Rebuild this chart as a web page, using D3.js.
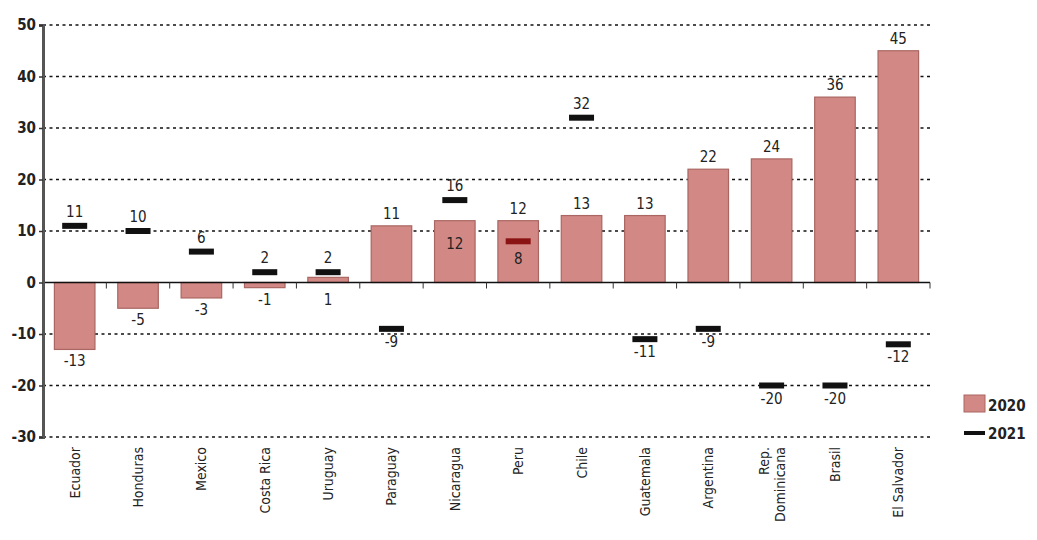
<!DOCTYPE html>
<html><head><meta charset="utf-8">
<script src="https://cdn.jsdelivr.net/npm/d3@7"></script>
<style>
body{margin:0;background:#fff;}
text{font-family:"DejaVu Sans Condensed","DejaVu Sans",sans-serif;font-stretch:condensed;fill:#222;}
</style></head>
<body><svg id="c" width="1037" height="540"></svg>
<script>
const countries = ["Ecuador","Honduras","Mexico","Costa Rica","Uruguay","Paraguay","Nicaragua","Peru","Chile","Guatemala","Argentina","Rep.\nDominicana","Brasil","El Salvador"];
const values2020 = [-13,-5,-3,-1,1,11,12,12,13,13,22,24,36,45];
const values2021 = [11,10,6,2,2,-9,16,8,32,-11,-9,-20,-20,-12];
const yTicks = [50,40,30,20,10,0,-10,-20,-30];
const seriesNames = ["2020","2021"];

const svg = d3.select("#c");
const L=43, R=930, T=25, B=437;
const y = d3.scaleLinear().domain([-30,50]).range([B,T]);
const x = d3.scaleBand().domain(countries).range([L,R]).paddingInner(0.36).paddingOuter(0.18);
const step = x.step();
const FF = '"DejaVu Sans Condensed","DejaVu Sans",sans-serif';

// grid
svg.append("g").selectAll("line").data(yTicks.filter(d=>d!==0)).join("line")
  .attr("x1",L).attr("x2",R).attr("y1",d=>y(d)).attr("y2",d=>y(d))
  .attr("stroke","#111").attr("stroke-width",1.6).attr("stroke-dasharray","3,3.5");

// bars
const data = countries.map((c,i)=>({c, a:values2020[i], b:values2021[i]}));
svg.append("g").selectAll("rect").data(data).join("rect")
  .attr("x",d=>x(d.c)).attr("width",x.bandwidth())
  .attr("y",d=>Math.min(y(d.a),y(0))).attr("height",d=>Math.abs(y(d.a)-y(0)))
  .attr("fill","#d2898586").attr("fill","#d28985").attr("stroke","#a96662").attr("stroke-width",1.2);

// zero axis
svg.append("line").attr("x1",L).attr("x2",R).attr("y1",y(0)).attr("y2",y(0))
  .attr("stroke","#111").attr("stroke-width",1.6);
svg.append("g").selectAll("line").data(d3.range(1,countries.length+1)).join("line")
  .attr("x1",k=>L+k*step).attr("x2",k=>L+k*step).attr("y1",y(0)).attr("y2",y(0)+6)
  .attr("stroke","#333").attr("stroke-width",1);

// y axis
const yAxis = svg.append("g").attr("transform",`translate(${L},0)`)
  .call(d3.axisLeft(y).tickValues(yTicks).tickFormat(d=>String(d)).tickSize(4).tickPadding(3));
yAxis.select(".domain").attr("stroke","#555").attr("stroke-width",3);
yAxis.selectAll(".tick line").attr("stroke","#333").attr("stroke-width",1.5);
yAxis.selectAll(".tick text").attr("font-size",15).attr("font-weight","bold")
  .style("font-family",FF).style("font-stretch","condensed").attr("fill","#222");

// 2021 markers
const cx = d=>x(d.c)+x.bandwidth()/2;
svg.append("g").selectAll("rect").data(data).join("rect")
  .attr("x",d=>cx(d)-12.5).attr("width",25)
  .attr("y",d=>y(d.b)-3).attr("height",6)
  .attr("fill",d=>(d.b>0 && d.b<d.a)?"#8a1414":"#111");

// labels 2020
svg.append("g").selectAll("text").data(data).join("text")
  .attr("x",cx).attr("text-anchor","middle").attr("font-size",15)
  .attr("y",d=>{
    if(d.b>d.a && d.b-d.a<6 && d.a>0) return y(d.a)+28;
    if(d.a>=2) return y(d.a)-7;
    return Math.max(y(d.a),y(0))+17;
  })
  .text(d=>String(d.a));

// labels 2021
svg.append("g").selectAll("text").data(data).join("text")
  .attr("x",cx).attr("text-anchor","middle").attr("font-size",15)
  .attr("fill",d=>(d.b>0 && d.b<d.a)?"#5a1010":"#222")
  .attr("y",d=>{
    if(d.b>0 && d.b<d.a) return y(d.b)+23;
    if(d.b<0) return y(d.b)+18;
    return y(d.b)-9;
  })
  .text(d=>String(d.b));

// x labels
const xl = svg.append("g").selectAll("text").data(countries).join("text")
  .attr("transform",d=>`translate(${x(d)+x.bandwidth()/2+5},447) rotate(-90)`)
  .attr("text-anchor","end").attr("font-size",14);
xl.each(function(d){
  const lines=d.split("\n");
  const t=d3.select(this);
  lines.forEach((ln,i)=>{
    t.append("tspan").attr("x",0).attr("dy", i===0 ? (lines.length>1? -8 : 0) : 16).text(ln);
  });
});

// legend
svg.append("rect").attr("x",964).attr("y",395).attr("width",21).attr("height",17)
  .attr("fill","#d28985").attr("stroke","#a96662");
svg.append("text").attr("x",988).attr("y",411).attr("font-size",15).attr("font-weight","bold").text(seriesNames[0]);
svg.append("rect").attr("x",964).attr("y",431).attr("width",21).attr("height",4).attr("fill","#111");
svg.append("text").attr("x",988).attr("y",439).attr("font-size",15).attr("font-weight","bold").text(seriesNames[1]);
</script></body></html>
